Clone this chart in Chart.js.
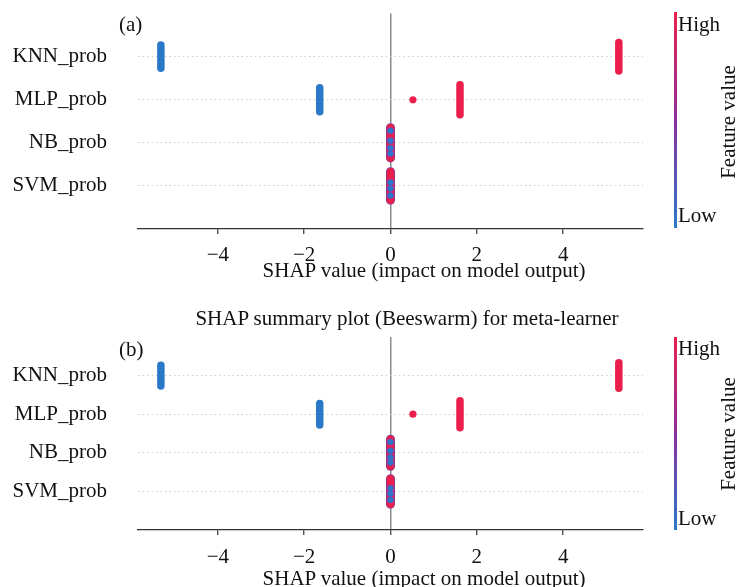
<!DOCTYPE html>
<html><head><meta charset="utf-8">
<script src="https://cdn.jsdelivr.net/npm/chart.js@4.4.1/dist/chart.umd.min.js"></script>
<style>
html,body{margin:0;padding:0;background:#fff;width:737px;height:587px;overflow:hidden;}
body{position:relative;font-family:'Liberation Serif','Times New Roman',serif;color:#111;}
.t{position:absolute;font-size:21px;line-height:1;white-space:nowrap;transform:translate(-50%,-50%);}
.l{position:absolute;font-size:21px;line-height:1;white-space:nowrap;transform:translate(0,-50%);}
.r{position:absolute;font-size:21px;line-height:1;white-space:nowrap;transform:translate(-50%,-50%) rotate(-90deg);}
canvas{position:absolute;left:0;}
.cbar{position:absolute;left:674px;width:3px;background:linear-gradient(to bottom,#ea1f4b 0%,#8b2f9e 50%,#2a78c8 100%);}
</style></head><body>
<canvas id="c1" style="top:0px" width="737" height="262"></canvas>
<canvas id="c2" style="top:290px" width="737" height="297"></canvas>

<div class="l" style="left:119px;top:24px">(a)</div>
<div class="t" style="left:424px;top:270px">SHAP value (impact on model output)</div>
<div class="cbar" style="top:12px;height:216px"></div>
<div class="l" style="left:678px;top:24px">High</div>
<div class="l" style="left:678px;top:215px">Low</div>
<div class="r" style="left:728px;top:122px">Feature value</div>

<div class="t" style="left:407px;top:318px">SHAP summary plot (Beeswarm) for meta-learner</div>
<div class="l" style="left:119px;top:349px">(b)</div>
<div class="t" style="left:424px;top:578px">SHAP value (impact on model output)</div>
<div class="cbar" style="top:337px;height:193px"></div>
<div class="l" style="left:678px;top:348px">High</div>
<div class="l" style="left:678px;top:518px">Low</div>
<div class="r" style="left:728px;top:434px">Feature value</div>

<script>
// ---- data ----
const features = ['KNN_prob', 'MLP_prob', 'NB_prob', 'SVM_prob'];
const xTicks = [-4, -2, 0, 2, 4];
const xMin = -5.85, xMax = 5.85;

// dense vertical runs of samples (beeswarm strips)
const stripFeature = ['KNN_prob', 'KNN_prob', 'MLP_prob', 'MLP_prob', 'NB_prob', 'SVM_prob'];
const stripShap    = [-5.32, 5.29, -1.64, 1.61, 0.0, 0.0];
const stripHalf    = [0.27, 0.33, 0.28, 0.35, 0.35, 0.33];
const stripValue   = ['low', 'high', 'low', 'high', 'mixed', 'mixed'];

// isolated samples
const singleFeature = ['MLP_prob'];
const singleShap    = [0.52];
const singleValue   = ['high'];

// low-valued samples inside the mixed strips at SHAP = 0 (offset within the row)
const nbLowOffsets  = [0.28, 0.05, -0.12, -0.25];
const svmLowOffsets = [0.08, -0.06, -0.22];

// ---- styling ----
const RED = '#ea1f4b', BLUE = '#2a78c8', PURPLE = '#7d3aa2';
const FONT = "'Liberation Serif','Times New Roman',serif";

function rowOf(f) { return features.length - 1 - features.indexOf(f); }

function buildDatasets() {
  const ds = [];
  stripShap.forEach((v, i) => {
    const row = rowOf(stripFeature[i]);
    const h = stripHalf[i];
    const pts = [{x: v, y: row - h}, {x: v, y: row + h}];
    const mixed = stripValue[i] === 'mixed';
    if (mixed) {
      ds.push({data: pts, showLine: true, borderColor: PURPLE, borderWidth: 9,
               borderCapStyle: 'round', pointRadius: 0, order: 5});
    }
    ds.push({data: pts, showLine: true, borderColor: stripValue[i] === 'low' ? BLUE : RED,
             borderWidth: 7.5, borderCapStyle: 'round', pointRadius: 0, order: 4});
  });
  ds.push({data: singleShap.map((v, i) => ({x: v, y: rowOf(singleFeature[i])})),
           pointRadius: 3.6, backgroundColor: singleValue.map(s => s === 'low' ? BLUE : RED),
           borderWidth: 0, order: 2});
  const lows = nbLowOffsets.map(o => ({x: 0, y: rowOf('NB_prob') + o}))
    .concat(svmLowOffsets.map(o => ({x: 0, y: rowOf('SVM_prob') + o})));
  ds.push({data: lows, pointRadius: 3, backgroundColor: BLUE, borderWidth: 0.8,
           borderColor: '#5a5ad0', order: 1});
  return ds;
}

function makeChart(id, padTop, xAxisH, tickPad) {
  return new Chart(document.getElementById(id), {
    type: 'scatter',
    data: {datasets: buildDatasets()},
    options: {
      responsive: false, animation: false, devicePixelRatio: 1,
      layout: {padding: {left: 0, right: 94, top: padTop, bottom: 0}},
      plugins: {legend: {display: false}, tooltip: {enabled: false}},
      scales: {
        x: {
          type: 'linear', min: xMin, max: xMax,
          afterBuildTicks: s => { s.ticks = xTicks.map(v => ({value: v})); },
          afterFit: s => { s.height = xAxisH; },
          ticks: {
            font: {family: FONT, size: 21}, color: '#111', padding: tickPad,
            maxRotation: 0, autoSkip: false,
            callback: v => (v < 0 ? '\u2212' + Math.abs(v) : String(v))
          },
          grid: {
            drawOnChartArea: true, drawTicks: true, tickLength: 5,
            color: c => (c.tick && c.tick.value === 0 ? '#8c8c8c' : 'rgba(0,0,0,0)'),
            lineWidth: 1.5, tickColor: '#333', tickWidth: 1.2
          },
          border: {display: true, color: '#333', width: 1.3}
        },
        y: {
          type: 'linear', min: -1, max: features.length,
          afterBuildTicks: s => { s.ticks = features.map((f, i) => ({value: i})); },
          afterFit: s => { s.width = 138; },
          ticks: {
            font: {family: FONT, size: 21}, color: '#111', padding: 1,
            callback: v => features[features.length - 1 - v]
          },
          grid: {drawOnChartArea: true, drawTicks: true, tickLength: 30,
                 tickColor: 'rgba(0,0,0,0)', color: '#cfcfcf', lineWidth: 1},
          border: {display: false, dash: [1.5, 3]}
        }
      }
    }
  });
}

makeChart('c1', 12, 33, 9);
makeChart('c2', 47, 57, 10);
</script>
</body></html>
